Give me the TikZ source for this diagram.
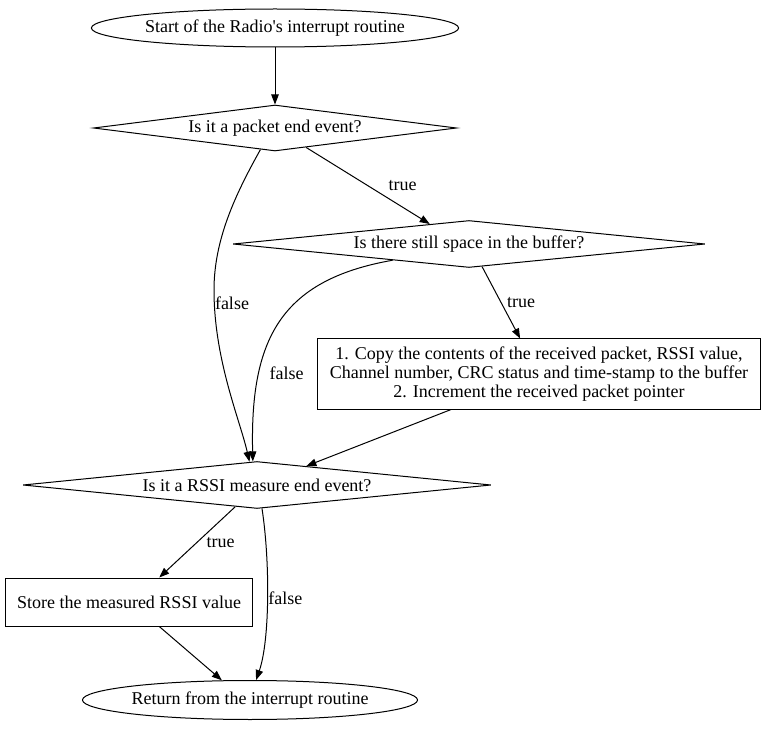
\documentclass[tikz,border=0pt]{standalone}
\usepackage{fontspec}
\setmainfont{Liberation Serif}
\usetikzlibrary{shapes.geometric,arrows.meta}
\begin{document}
\begin{tikzpicture}[x=0.75pt,y=0.75pt,
  every node/.style={font=\fontsize{13.5}{14.25}\selectfont},
  base/.style={draw=black, line width=0.75pt, inner sep=0pt},
  oval/.style={base, ellipse},
  dia/.style={base, diamond},
  box/.style={base, rectangle, align=center},
  arr/.style={draw=black, line width=0.75pt, -{Triangle[length=7.5pt,width=5.6pt]}},
  lbl/.style={inner sep=0pt}
]
\useasboundingbox (0,0) rectangle (772,-731);
\node[oval, minimum width=275.25pt, minimum height=28.5pt] (start) at (275,-28) {Start of the Radio\textquotesingle s interrupt routine};
\node[dia, minimum width=272.25pt, minimum height=34.5pt, label=center:{Is it a packet end event?}] (d1) at (275,-128) {};
\node[dia, minimum width=354pt, minimum height=35.25pt, label=center:{Is there still space in the buffer?}] (d2) at (469,-244) {};
\node[box, minimum width=332.25pt, minimum height=52.5pt] (copy) at (539,-374) {1. Copy the contents of the received packet, RSSI value,\\Channel number, CRC status and time-stamp to the buffer\\2. Increment the received packet pointer};
\node[dia, minimum width=351pt, minimum height=35.25pt, label=center:{Is it a RSSI measure end event?}] (d3) at (257,-485) {};
\node[box, minimum width=185.25pt, minimum height=36pt] (store) at (129,-602) {Store the measured RSSI value};
\node[oval, minimum width=250.5pt, minimum height=29.25pt] (end) at (250,-700) {Return from the interrupt routine};

\draw[arr] (start.south) -- (d1.north);
\draw[arr] (d1.-32) -- node[lbl, xshift=26pt] {true} (d2.153);
\draw[arr] (d1.236) .. controls (235,-195) and (214,-240) .. (214,-290)
  node[lbl, xshift=13.5pt, yshift=-9.75pt] {false}
  .. controls (214,-360) and (240,-420) .. (d3.108);
\draw[arr] (d2.-60) -- node[lbl, xshift=15pt] {true} (copy.118.5);
\draw[arr] (d2.192) .. controls (280,-280) and (250,-340) .. node[lbl, pos=0.75, xshift=21.75pt, yshift=6pt] {false} (d3.100);
\draw[arr] (copy.202) -- (d3.21.6);
\draw[arr] (d3.225) -- node[lbl, xshift=17.6pt] {true} (store.39.6);
\draw[arr] (d3.-78) .. controls (270,-560) and (270,-640) .. node[lbl, xshift=13.5pt] {false} (end.73);
\draw[arr] (store.-39.6) -- (end.145.6);
\end{tikzpicture}
\end{document}
